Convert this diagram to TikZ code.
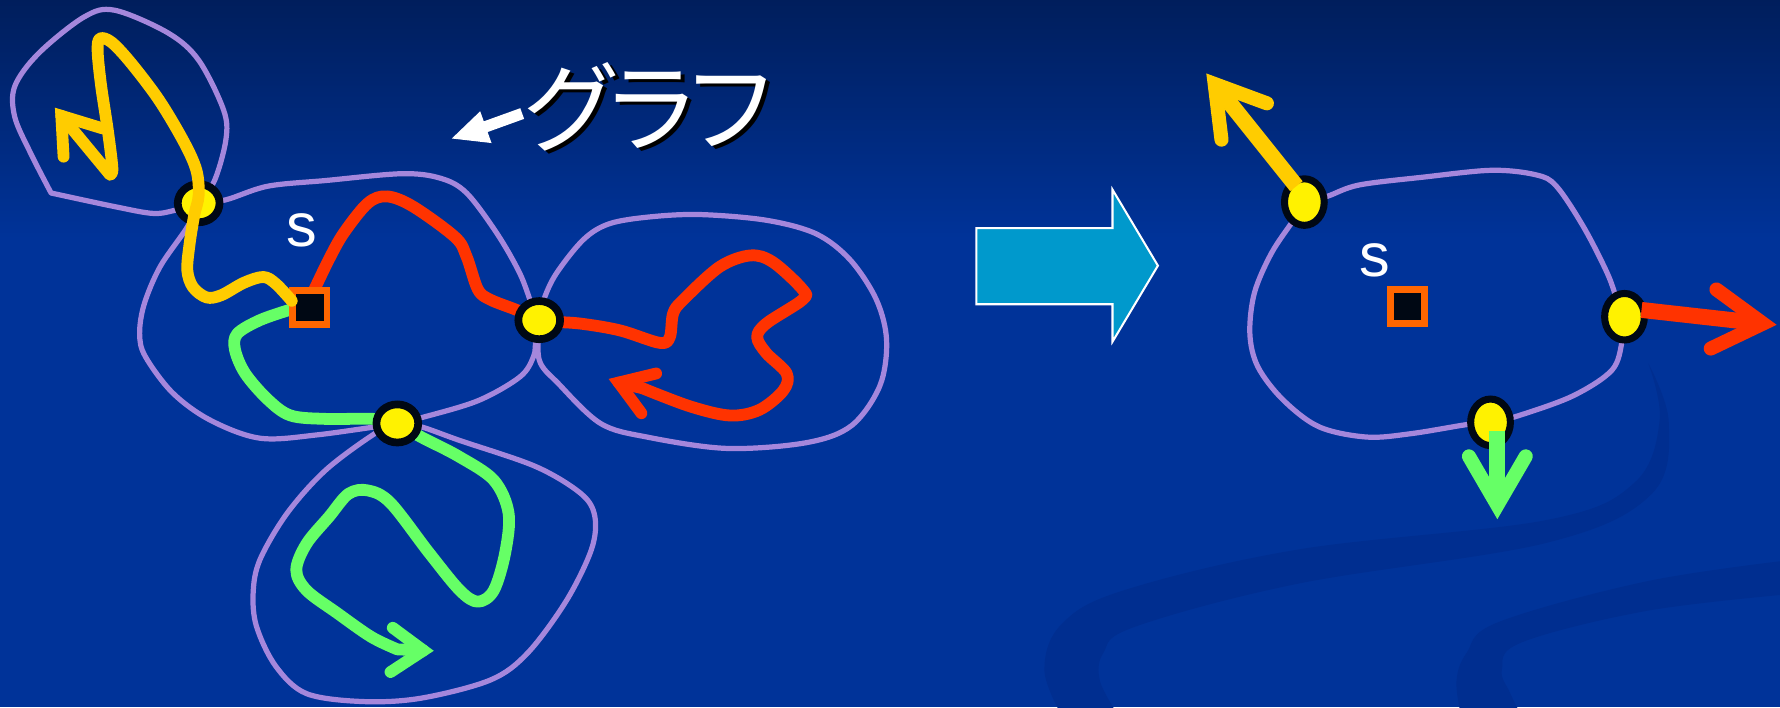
\documentclass[tikz,border=0pt]{standalone}
\usepackage{fontspec}
\setmainfont{Liberation Sans}
\newfontfamily\jpfont{Noto Sans CJK JP}[LetterSpace=-18]
\usetikzlibrary{shapes.geometric}
\definecolor{bgblue}{RGB}{0,51,153}
\definecolor{bgtop}{RGB}{0,30,92}
\definecolor{bandcol}{RGB}{0,46,144}
\definecolor{lav}{RGB}{165,135,220}
\definecolor{pyellow}{RGB}{255,204,0}
\definecolor{pred}{RGB}{255,51,0}
\definecolor{pgreen}{RGB}{102,255,102}
\definecolor{vring}{RGB}{0,8,20}
\definecolor{sqorange}{RGB}{255,102,0}
\definecolor{cyanarrow}{RGB}{0,153,204}
\begin{document}
\begin{tikzpicture}[x=0.5pt,y=-0.5pt,
  region/.style={draw=lav, line width=2.3pt, line join=round},
  walk/.style={line width=5.2pt, line cap=round, line join=round},
  tiphead/.style={line width=5.2pt, line cap=round, line join=miter, miter limit=10},
  vtxL/.style={ellipse, draw=vring, fill=yellow, line width=3.4pt, minimum width=18.4pt, minimum height=16.8pt, inner sep=0pt},
  vtxR/.style={ellipse, draw=vring, fill=yellow, line width=3.1pt, minimum width=17.5pt, minimum height=20.5pt, inner sep=0pt},
  src/.style={rectangle, draw=sqorange, fill=vring, line width=3pt, minimum size=15pt, inner sep=0pt},
  lbl/.style={text=white, font=\fontsize{27}{27}\selectfont, inner sep=0pt},
  ttl/.style={font=\jpfont\fontsize{43}{43}\selectfont, inner sep=0pt},
  bigarrow/.style={fill=cyanarrow, draw=white, line width=0.9pt, line join=miter},
  exitshaft/.style={line width=7pt, line cap=butt},
  exithead/.style={line width=6.2pt, line cap=round, line join=miter, miter limit=10},
]
\useasboundingbox (0,0) rectangle (1568,623);
% background
\fill[bgblue] (0,0) rectangle (1568,623);
\shade[top color=bgtop, bottom color=bgblue] (0,0) rectangle (1568,210);
\begin{scope}
\clip (0,0) rectangle (1568,623);
\fill[bandcol] plot[smooth, tension=0.6] coordinates {(935,630) (920,590) (935,550) (990,520) (1144,484) (1363,458) (1440,425) (1462,370) (1452,320)}
  -- plot[smooth, tension=0.6] coordinates {(1452,320) (1470,372) (1455,435) (1363,478) (1144,514) (1000,552) (972,575) (969,600) (985,630)} -- cycle;
\fill[bandcol] plot[smooth, tension=0.6] coordinates {(1287,630) (1283,600) (1292,575) (1320,548) (1451,512) (1580,493)}
  -- plot[smooth, tension=0.6] coordinates {(1580,523) (1451,538) (1340,566) (1323,590) (1330,610) (1340,630)} -- cycle;
\end{scope}

% big transition arrow
\draw[bigarrow] (860,201) -- (980,201) -- (980,167) -- (1020,234) -- (980,301) -- (980,268) -- (860,268) -- cycle;

% title with arrow
\coordinate (ttail) at (460,100);
\coordinate (tbase) at (424,113);
\coordinate (ttip) at (398,122);
\draw[white, line width=5pt] (ttail) -- (tbase);
\fill[white] (ttip) -- (423,98) -- (433,126) -- cycle;
\node[ttl, text=black] (titleshadow) at (577,97) {グラフ};
\node[ttl, text=white] (title) at (574,94) {グラフ};

% ---------- left graph ----------
\coordinate (A) at (175,179);
\coordinate (B) at (475,282);
\coordinate (C) at (350,373);

\draw[region] plot[smooth,tension=0.55] coordinates {(A) (199,176) (236,164) (287,159) (354,153) (388,157) (411,170) (438,206) (458,241) (469,270) (B)};
\draw[region] plot[smooth,tension=0.55] coordinates {(B) (472,299) (470,314) (458,332) (421,353) (371,368) (C)};
\draw[region] plot[smooth,tension=0.55] coordinates {(C) (280,383) (229,386) (185,370) (152,346) (128,314) (123,294) (127,268) (141,235) (165,200) (A)};
\draw[region] plot[smooth,tension=0.55] coordinates {(A) (155,185) (135,188) (101,182) (45,170)} -- plot[smooth,tension=0.55] coordinates {(45,170) (27,135) (13,103) (13,76) (34,47) (74,15) (101,9) (148,29) (175,53) (197,97) (199,123) (189,159) (A)};
\draw[region] plot[smooth,tension=0.55] coordinates {(B) (479,264) (490,241) (514,211) (537,197) (573,191) (617,189) (675,194) (719,206) (749,229) (772,264) (781,300) (775,340) (750,375) (710,390) (640,395) (570,385) (529,373) (492,338) (475,317) (B)};
\draw[region] plot[smooth,tension=0.55] coordinates {(C) (330,382) (287,414) (253,452) (229,493) (223,522) (226,552) (243,587) (270,611) (320,618) (371,615) (432,599) (465,575) (499,529) (521,484) (524,455) (512,435) (472,411) (405,388) (371,376) (C)};

% green walk
\coordinate (gtip) at (373,573);
\draw[walk, pgreen] plot[smooth,tension=0.55] coordinates {(255,273) (229,282) (209,294) (207,308) (216,329) (236,352) (256,366) (287,369) (329,369) (C) (371,385) (404,402) (435,423) (448,452) (445,487) (435,520) (421,530) (405,520) (378,487) (344,443) (324,432) (307,435) (290,455) (270,479) (261,502) (270,520) (297,540) (327,561) (350,572)} -- (gtip);
\draw[tiphead, pgreen] (346,553) -- (gtip) -- (344,592);

% red walk
\coordinate (rtip) at (545,337);
\draw[walk, pred] plot[smooth,tension=0.55] coordinates {(276,257) (290,228) (303,205) (324,179) (341,173) (364,182) (401,209) (411,226) (421,255) (432,264) (455,273) (B) (511,285) (546,291) (581,302) (590,297) (593,276) (602,264) (634,235) (661,225) (681,231) (707,255) (707,264) (675,285) (667,297) (675,311) (693,329) (690,344) (669,361) (643,366) (608,358) (566,342)} -- (rtip);
\draw[tiphead, pred] (578,329) -- (rtip) -- (565,364);

% vertices and source
\node[vtxL] (vB) at (B) {};
\node[vtxL] (vC) at (C) {};
\node[src] (sL) at (273,271) {};
\node[vtxL] (vA) at (A) {};

% yellow walk
\coordinate (ytip) at (54,102);
\draw[walk, pyellow] plot[smooth,tension=0.55] coordinates {(257,265) (243,250) (232,244) (215,249) (195,260) (182,262) (170,253) (165,238) (167,215) (171,190) (175,172) (173,150) (162,125) (140,88) (115,55) (98,37) (88,34) (86,45) (89,75) (95,115) (99,148) (97,154)} -- (ytip);
\draw[tiphead, pyellow] (90,113) -- (ytip) -- (56,138);

\node[lbl] (sLabelL) at (266,203) {s};

% ---------- right graph ----------
\coordinate (A2) at (1149,178);
\coordinate (B2) at (1431,279);
\coordinate (C2) at (1313,372);
\draw[region] plot[smooth,tension=0.55] coordinates {(A2) (1169,173) (1197,163) (1254,156) (1314,150) (1353,154) (1371,164) (1395,200) (1416,241) (1425,266) (B2)};
\draw[region] plot[smooth,tension=0.55] coordinates {(B2) (1429,300) (1420,326) (1385,349) (1335,367) (C2)};
\draw[region] plot[smooth,tension=0.55] coordinates {(C2) (1292,374) (1243,382) (1204,385) (1162,376) (1130,352) (1108,323) (1101,294) (1105,258) (1120,223) (1140,193) (A2)};

\node[vtxR] (vA2) at (A2) {};
\node[vtxR] (vB2) at (B2) {};
\node[vtxR] (vC2) at (C2) {};
\node[src] (sR) at (1240,270) {};
\node[lbl] (sLabelR) at (1211,229) {s};

% exit arrows
\coordinate (yt2) at (1070,74);
\draw[exitshaft, pyellow] (1142,164) -- (yt2);
\draw[exithead, pyellow] (1116,91) -- (yt2) -- (1076,123);
\coordinate (rt2) at (1553,285);
\draw[exitshaft, pred] (1446,273) -- (rt2);
\draw[exithead, pred] (1512,255) -- (rt2) -- (1507,307);
\coordinate (gt2) at (1319,445);
\draw[exitshaft, pgreen] (1319,380) -- (gt2);
\draw[exithead, pgreen] (1294,402) -- (gt2) -- (1344,402);
\end{tikzpicture}
\end{document}
